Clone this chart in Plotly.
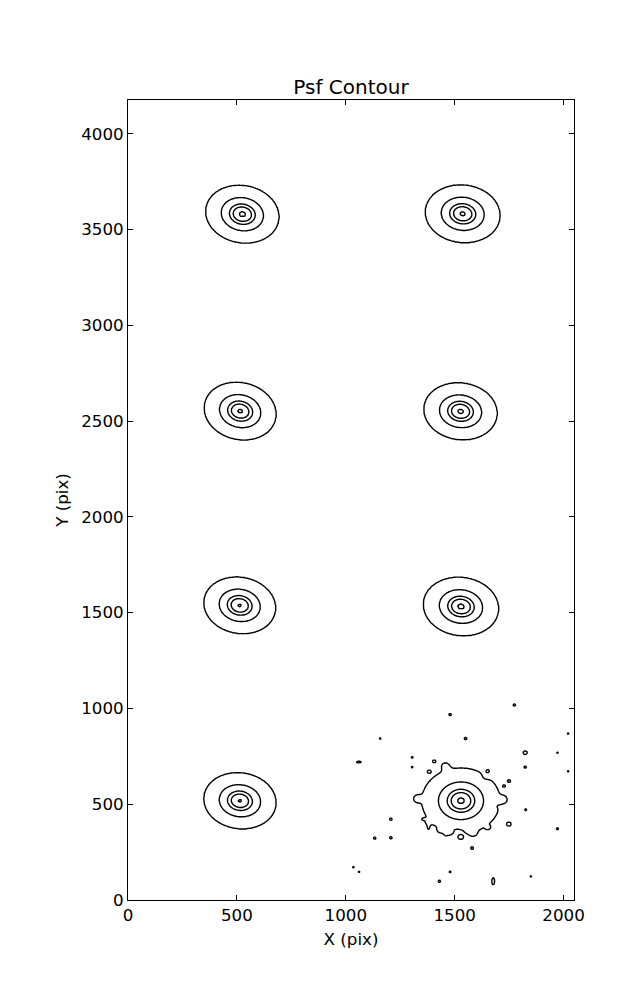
import numpy as np
import plotly.graph_objects as go

# ---------------- data ----------------
x_range = [0, 2048]
y_range = [0, 4176]
x_ticks = [0, 500, 1000, 1500, 2000]
y_ticks = [0, 500, 1000, 1500, 2000, 2500, 3000, 3500, 4000]

# PSF stars (detector pixels)
psf_x = [525, 1537, 515, 1527, 513, 1529, 514, 1529]
psf_y = [3580, 3582, 2552, 2551, 1538, 1532, 518, 518]
psf_amp = [1.0, 0.97, 0.96, 0.98, 0.93, 1.0, 0.93, 1.0]
psf_scale = [1.0, 1.02, 1.0, 1.0, 1.0, 1.02, 1.0, 1.10]
psf_q = [0.87, 0.87, 0.87, 0.87, 0.87, 0.87, 0.87, 0.95]
psf_angle = [-20, -12, -25, -15, -20, -15, -15, 0]
noisy_psf = 7  # the bottom-right star sits on a noisy background

# Moffat-like profile parameters and contour levels (normalised flux)
moffat_alpha = 60.0
moffat_beta = 2.0
contour_levels = [0.0152, 0.089, 0.286, 0.48, 0.90]

# noise speckles around the bottom-right star
speck_x = [1774, 1479, 1158, 1550, 2021, 1824, 1972, 1060, 1305, 1305, 1406, 1383,
           1652, 1824, 2021, 1750, 1727, 1826, 1652, 1207, 1364, 1380, 1458, 1652,
           1749, 1972, 1133, 1207, 1528, 1580, 1035, 1061, 1479, 1430, 1677, 1850]
speck_y = [1018, 968, 843, 843, 869, 769, 769, 720, 745, 694, 724, 670,
           673, 694, 672, 621, 595, 471, 445, 422, 422, 389, 363, 380,
           396, 372, 323, 325, 328, 271, 171, 147, 147, 98, 98, 123]
speck_peak = [0.022, 0.022, 0.0170, 0.022, 0.0170, 0.036, 0.0170, 0.026, 0.020, 0.0170, 0.022, 0.022,
              0.020, 0.022, 0.0170, 0.022, 0.0170, 0.020, 0.020, 0.022, 0.026, 0.026, 0.026, 0.030,
              0.036, 0.020, 0.022, 0.022, 0.030, 0.022, 0.0170, 0.0170, 0.020, 0.022, 0.034, 0.0170]
speck_sx = [6, 6, 6, 6, 6, 7, 6, 10, 5, 5, 6, 6,
            5, 6, 6, 6, 5, 5, 6, 6, 9, 3.5, 3.5, 7,
            7, 6, 6, 6, 7, 6, 6, 6, 5, 6, 5, 6]
speck_sy = [6, 6, 6, 6, 6, 7, 6, 4, 5, 5, 6, 6,
            5, 6, 6, 6, 5, 5, 6, 6, 4, 13, 13, 7,
            7, 6, 6, 6, 7, 6, 6, 6, 5, 6, 14, 6]

# ragged edge of the noisy star's outer contour
bump_x = [1723, 1328, 1456, 1585, 1466, 1631, 1677, 1525, 1378, 1433, 1502]
bump_y = [525, 529, 703, 348, 353, 630, 494, 363, 405, 363, 372]
bump_peak = [0.016, 0.016, 0.010, 0.010, 0.010, -0.007, -0.008, -0.008, 0.008, 0.008, -0.006]
bump_sigma = [14, 14, 18, 14, 14, 18, 16, 14, 14, 12, 12]


# ---------------- field model ----------------
def field(X, Y):
    z = np.zeros_like(X, dtype=float)
    for cx, cy, a, s, q, ang in zip(psf_x, psf_y, psf_amp, psf_scale, psf_q, psf_angle):
        dx, dy = X - cx, Y - cy
        th = np.radians(ang)
        u = dx * np.cos(th) + dy * np.sin(th)
        v = -dx * np.sin(th) + dy * np.cos(th)
        rho2 = (u * u * q + v * v / q) / (moffat_alpha * s) ** 2
        z += a * (1.0 + rho2) ** (-moffat_beta)
    for cx, cy, p, sx, sy in zip(speck_x, speck_y, speck_peak, speck_sx, speck_sy):
        z += p * np.exp(-0.5 * (((X - cx) / sx) ** 2 + ((Y - cy) / sy) ** 2))
    for cx, cy, p, sg in zip(bump_x, bump_y, bump_peak, bump_sigma):
        z += p * np.exp(-0.5 * (((X - cx) ** 2 + (Y - cy) ** 2) / sg ** 2))
    return z


# map levels onto 1..5 so one contour trace can draw uneven levels
lev_xp = [-1.0, 0.0] + contour_levels + [10.0]
lev_fp = [-1.0, 0.0, 1.0, 2.0, 3.0, 4.0, 5.0, 6.0]


def contour_trace(x0, x1, y0, y1, step):
    xs = np.arange(x0, x1 + step / 2, step)
    ys = np.arange(y0, y1 + step / 2, step)
    X, Y = np.meshgrid(xs, ys)
    zt = np.interp(field(X, Y), lev_xp, lev_fp)
    return go.Contour(
        x=np.round(xs, 2), y=np.round(ys, 2), z=np.round(zt, 3),
        contours=dict(start=1, end=5, size=1, coloring="lines", showlabels=False),
        line=dict(color="black", width=1.4, smoothing=1),
        colorscale=[[0, "black"], [1, "black"]],
        showscale=False, hoverinfo="skip",
    )


fig = go.Figure()

# windows around each star
noisy_box = [1230, 1845, 205, 805]
for i, (cx, cy) in enumerate(zip(psf_x, psf_y)):
    if i == noisy_psf:
        fig.add_trace(contour_trace(*noisy_box, 2.5))
    else:
        fig.add_trace(contour_trace(cx - 235, cx + 235, cy - 235, cy + 235, 4))

# windows around isolated speckles
for cx, cy, sx, sy in zip(speck_x, speck_y, speck_sx, speck_sy):
    inside = noisy_box[0] <= cx <= noisy_box[1] and noisy_box[2] <= cy <= noisy_box[3]
    if inside:
        continue
    hx = max(3 * sx, 18)
    hy = max(3 * sy, 18)
    fig.add_trace(contour_trace(cx - hx, cx + hx, max(cy - hy, 0), cy + hy, 1.0))

font_family = "DejaVu Sans"
axis_common = dict(
    showgrid=False, zeroline=False,
    showline=True, linecolor="black", linewidth=1, mirror="ticks",
    ticks="inside", ticklen=5, tickwidth=1, tickcolor="black",
    tickfont=dict(family=font_family, size=16.7, color="black"),
)

fig.update_layout(
    width=637, height=1000,
    margin=dict(l=120, r=71, t=92, b=108),
    paper_bgcolor="white", plot_bgcolor="white",
    showlegend=False,
    title=dict(text="Psf Contour", x=0.5, xref="paper", y=0.921, yref="container",
               xanchor="center", yanchor="middle",
               font=dict(family=font_family, size=20, color="black")),
    xaxis=dict(range=x_range, tickvals=x_ticks, ticktext=[str(v) for v in x_ticks],
               title=dict(text="X (pix)", font=dict(family=font_family, size=16.7, color="black"), standoff=9),
               **axis_common),
    yaxis=dict(range=y_range, tickvals=y_ticks, ticktext=[str(v) for v in y_ticks],
               title=dict(text="Y (pix)", font=dict(family=font_family, size=16.7, color="black"), standoff=8),
               **axis_common),
)

fig.write_html("out.html")
